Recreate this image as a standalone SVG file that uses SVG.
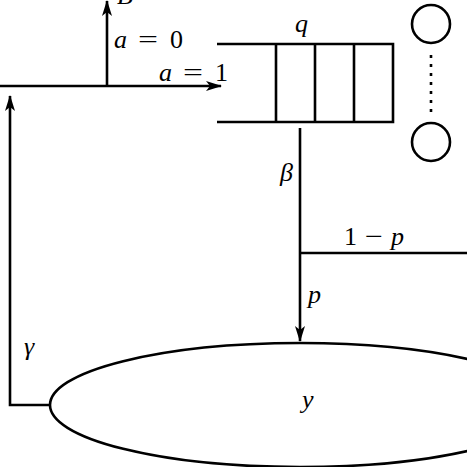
<svg xmlns="http://www.w3.org/2000/svg" width="467" height="467" viewBox="0 0 467 467">
<defs>
<marker id="ah" markerWidth="16" markerHeight="10" refX="15" refY="5" orient="auto" markerUnits="userSpaceOnUse">
<path d="M0,0 L16,5 L0,10 L4,5 Z" fill="#000"/>
</marker>
<style>
.ln{stroke:#000;stroke-width:2.6;fill:none}
.m{font-family:'Liberation Serif','DejaVu Serif',serif;font-style:italic;font-size:26px;fill:#000}
.r{font-family:'Liberation Serif','DejaVu Serif',serif;font-size:26px;fill:#000}
</style>
</defs>
<rect width="467" height="467" fill="#fff"/>
<g id="connectors">
<line class="ln" x1="0" y1="86" x2="221" y2="86" marker-end="url(#ah)"/>
<line class="ln" x1="107" y1="86" x2="107" y2="1" marker-end="url(#ah)"/>
<polyline class="ln" points="50,405 10,405 10,96" marker-end="url(#ah)"/>
<line class="ln" x1="300" y1="128" x2="300" y2="341" marker-end="url(#ah)"/>
<line class="ln" x1="300" y1="253" x2="467" y2="253"/>
</g>
<g id="queue">
<polyline class="ln" points="217,44 393,44 393,122 217,122"/>
<line class="ln" x1="276" y1="44" x2="276" y2="122"/>
<line class="ln" x1="315" y1="44" x2="315" y2="122"/>
<line class="ln" x1="354" y1="44" x2="354" y2="122"/>
<text class="m" x="295" y="32">q</text>
</g>
<g id="servers">
<circle class="ln" cx="431" cy="24" r="19"/>
<circle class="ln" cx="431" cy="142" r="19"/>
<line x1="431" y1="55" x2="431" y2="112" stroke="#000" stroke-width="2.6" stroke-dasharray="3,6"/>
</g>
<g id="pool">
<ellipse class="ln" cx="300" cy="405" rx="250" ry="62"/>
<text class="m" x="302" y="408">y</text>
</g>
<g id="labels">
<text class="m" x="117" y="4">B</text>
<text class="m" x="114" y="48">a</text>
<text class="r" x="138" y="48" textLength="20" lengthAdjust="spacingAndGlyphs">=</text>
<text class="r" x="170" y="48">0</text>
<text class="m" x="159" y="81">a</text>
<text class="r" x="183" y="81" textLength="20" lengthAdjust="spacingAndGlyphs">=</text>
<text class="r" x="215" y="81">1</text>
<text class="m" x="280" y="181">β</text>
<text class="r" x="344" y="245">1</text>
<text class="r" x="365" y="245" textLength="18" lengthAdjust="spacingAndGlyphs">−</text>
<text class="m" x="391" y="245">p</text>
<text class="m" x="308" y="303">p</text>
<text class="m" x="24" y="355">γ</text>
</g>
</svg>
